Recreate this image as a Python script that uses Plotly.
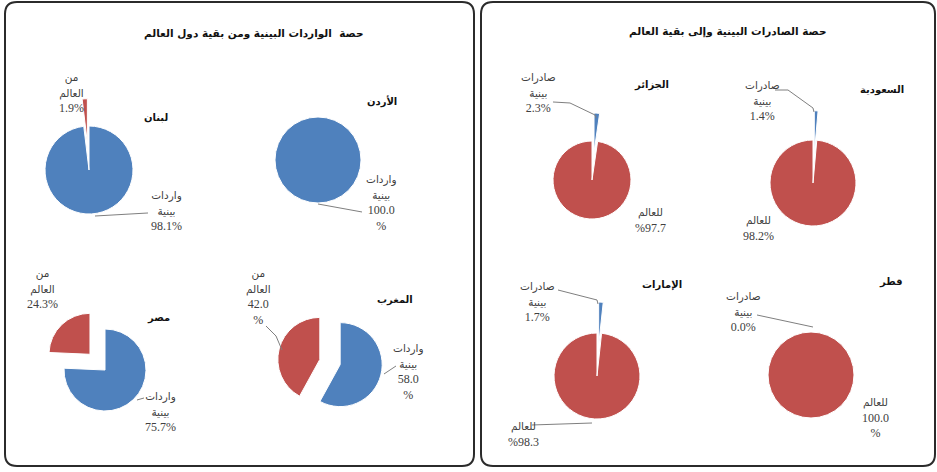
import plotly.graph_objects as go

W, H = 937, 472

# ---- data (percent shares) ----
import_title = "حصة  الواردات البينية ومن بقية دول العالم"
import_countries = ["لبنان", "الأردن", "مصر", "المغرب"]
import_intra = [98.1, 100.0, 75.7, 58.0]
import_world = [1.9, 0.0, 24.3, 42.0]
import_slice_names = ["واردات بينية", "من العالم"]
import_label_words = [["واردات", "بينية"], ["من", "العالم"]]

export_title = "حصة الصادرات البينية وإلى بقية العالم"
export_countries = ["السعودية", "الجزائر", "الإمارات", "قطر"]
export_intra = [1.4, 2.3, 1.7, 0.0]
export_world = [98.2, 97.7, 98.3, 100.0]
export_slice_names = ["صادرات بينية", "للعالم"]
export_label_words = [["صادرات", "بينية"], ["للعالم"]]

# ---- styling / placement (pixels) ----
BLUE = "#4F81BD"
RED = "#C0504D"
LABEL_FONT = dict(family="Liberation Serif, DejaVu Sans", size=12, color="#404040")
WORD_STYLE = "font-size:10.5px"
NAME_FONT = dict(family="DejaVu Sans", size=10, color="#111111")
TITLE_FONT = dict(family="DejaVu Sans", size=10.5, color="#111111")
LEADER = dict(color="#7f7f7f", width=1)

import_layout = [
    dict(c=(89, 170), r=44, pull=[0, 0.62], name=(156, 117),
         labels=[(1, "{v:.1f}%", 71, 93), (0, "{v:.1f}%", 166, 211)],
         leaders=[[(95, 216), (148, 213)]]),
    dict(c=(318, 160), r=43, pull=[0, 0], name=(382, 102),
         labels=[(0, "{v:.1f}<br>%", 381, 203)],
         leaders=[[(318, 204), (362, 212)]]),
    dict(c=(105, 370), r=41, pull=[0, 0.53], name=(158, 318),
         labels=[(1, "{v:.1f}%", 42, 289), (0, "{v:.1f}%", 160, 412)],
         leaders=[[(137, 400), (144, 398)]]),
    dict(c=(330, 362), r=42, pull=[0.25, 0.25], name=(395, 300),
         labels=[(1, "{v:.1f}<br>%", 258, 297), (0, "{v:.1f}<br>%", 408, 372)],
         leaders=[[(266, 326), (276, 336), (282, 350)], [(396, 366), (384, 374)]]),
]

export_layout = [
    dict(c=(813, 183), r=43, pull=[0.68, 0], name=(882, 90),
         labels=[(0, "{v:.1f}%", 762, 102), (1, "{v:.1f}%", 758, 229)],
         leaders=[[(775, 90), (788, 90), (813, 108), (814, 112)]]),
    dict(c=(592, 180), r=39, pull=[0.72, 0], name=(651, 85),
         labels=[(0, "{v:.1f}%", 538, 93), (1, "%{v:.1f}", 650, 221)],
         leaders=[[(553, 102), (570, 103), (595, 115), (596, 118)]]),
    dict(c=(597, 376), r=43, pull=[0.72, 0], name=(662, 285),
         labels=[(0, "{v:.1f}%", 537, 302), (1, "%{v:.1f}", 523, 435)],
         leaders=[[(558, 290), (597, 300), (598, 304)], [(532, 425), (592, 423)]]),
    dict(c=(811, 375), r=43, pull=[0, 0], name=(891, 282),
         labels=[(0, "{v:.1f}%", 743, 312), (1, "{v:.1f}<br>%", 875, 418)],
         leaders=[[(757, 315), (813, 327)]]),
]


def fx(x):
    return x / W


def fy(y):
    return 1 - y / H


fig = go.Figure()
annotations = []
shapes = []


def add_group(countries, intra, world, slice_names, words, layouts):
    for country, a, b, lay in zip(countries, intra, world, layouts):
        values = [a, b]
        cx, cy = lay["c"]
        half = lay["r"] * (1 + max(lay["pull"]))
        fig.add_trace(go.Pie(
            labels=slice_names,
            values=values,
            sort=False,
            direction="clockwise",
            rotation=0,
            pull=lay["pull"],
            textinfo="none",
            hoverinfo="label+percent",
            showlegend=False,
            marker=dict(colors=[BLUE, RED],
                        line=dict(color="white", width=[1 if v > 0 else 0 for v in values])),
            domain=dict(x=[fx(cx - half), fx(cx + half)],
                        y=[fy(cy + half), fy(cy - half)]),
        ))
        nx, ny = lay["name"]
        annotations.append(dict(text="<b>" + country + "</b>", x=fx(nx), y=fy(ny),
                                xref="paper", yref="paper", showarrow=False,
                                xanchor="center", yanchor="middle", font=NAME_FONT))
        for idx, fmt, lx, ly in lay["labels"]:
            word_lines = [f'<span style="{WORD_STYLE}">{w}</span>' for w in words[idx]]
            txt = "<br>".join(word_lines) + "<br>" + fmt.format(v=values[idx])
            annotations.append(dict(text=txt, x=fx(lx), y=fy(ly),
                                    xref="paper", yref="paper", showarrow=False,
                                    xanchor="center", yanchor="middle", align="center",
                                    font=LABEL_FONT))
        for pts in lay["leaders"]:
            path = "M " + " L ".join(f"{fx(px):.5f},{fy(py):.5f}" for px, py in pts)
            shapes.append(dict(type="path", path=path, xref="paper", yref="paper",
                               line=LEADER))


add_group(import_countries, import_intra, import_world,
          import_slice_names, import_label_words, import_layout)
add_group(export_countries, export_intra, export_world,
          export_slice_names, export_label_words, export_layout)


def rounded_rect(x0, y0, x1, y1, rad):
    p = [
        f"M {fx(x0 + rad)},{fy(y0)}",
        f"L {fx(x1 - rad)},{fy(y0)}",
        f"Q {fx(x1)},{fy(y0)} {fx(x1)},{fy(y0 + rad)}",
        f"L {fx(x1)},{fy(y1 - rad)}",
        f"Q {fx(x1)},{fy(y1)} {fx(x1 - rad)},{fy(y1)}",
        f"L {fx(x0 + rad)},{fy(y1)}",
        f"Q {fx(x0)},{fy(y1)} {fx(x0)},{fy(y1 - rad)}",
        f"L {fx(x0)},{fy(y0 + rad)}",
        f"Q {fx(x0)},{fy(y0)} {fx(x0 + rad)},{fy(y0)} Z",
    ]
    return dict(type="path", path=" ".join(p), xref="paper", yref="paper",
                line=dict(color="#2b2b2b", width=2))


shapes.append(rounded_rect(5, 2, 474, 466, 12))
shapes.append(rounded_rect(481, 2, 935, 466, 12))

annotations.append(dict(text="<b>" + import_title + "</b>", x=fx(253), y=fy(33),
                        xref="paper", yref="paper", showarrow=False,
                        xanchor="center", yanchor="middle", font=TITLE_FONT))
annotations.append(dict(text="<b>" + export_title + "</b>", x=fx(727), y=fy(31),
                        xref="paper", yref="paper", showarrow=False,
                        xanchor="center", yanchor="middle", font=TITLE_FONT))

fig.update_layout(
    width=W, height=H, autosize=False,
    margin=dict(l=0, r=0, t=0, b=0),
    paper_bgcolor="white", plot_bgcolor="white",
    annotations=annotations, shapes=shapes,
)

fig.write_html("out.html")
